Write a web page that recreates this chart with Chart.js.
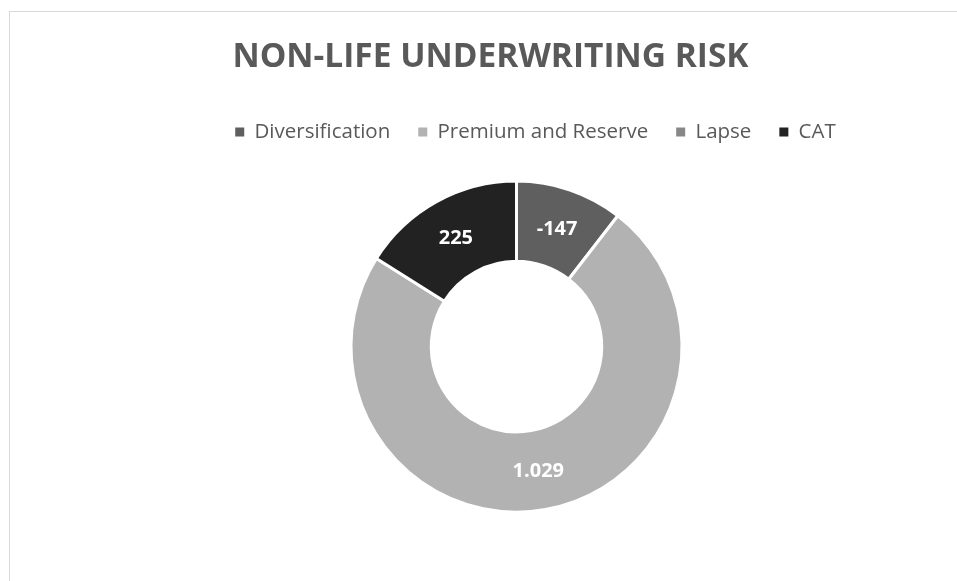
<!DOCTYPE html>
<html>
<head>
<meta charset="utf-8">
<title>Non-life underwriting risk</title>
<script src="https://cdn.jsdelivr.net/npm/chart.js@4.4.1/dist/chart.umd.min.js"></script>
<style>
  html, body { margin: 0; padding: 0; background: #fff; overflow: hidden; }
  #wrap { position: relative; width: 957px; height: 581px; }
  #frame { position: absolute; left: 9px; top: 11px; width: 980px; height: 600px; border: 1px solid #d9d9d9; box-sizing: border-box; }
  #myChart { position: absolute; left: 0; top: 0; }
</style>
</head>
<body>
<div id="wrap">
  <div id="frame"></div>
  <canvas id="myChart" width="957" height="581"></canvas>
</div>
<script>
//--- data
var categories = ['Diversification', 'Premium and Reserve', 'Lapse', 'CAT'];
var values = [-147, 1029, 0, 225];
var colours = ['#5f5f5f', '#b2b2b2', '#878787', '#222222'];

var chartTitle = 'NON-LIFE UNDERWRITING RISK';
var textGrey = '#595959';

function fmt(v) {
    var s = Math.abs(v).toString().replace(/\B(?=(\d{3})+(?!\d))/g, '.');
    return (v < 0 ? '-' : '') + s;
}

// values drawn in the middle of each slice
var sliceLabels = {
    id: 'sliceLabels',
    afterDatasetsDraw: function (chart) {
        var ctx = chart.ctx;
        var meta = chart.getDatasetMeta(0);
        ctx.save();
        ctx.fillStyle = '#ffffff';
        ctx.font = 'bold 20px "Open Sans"';
        ctx.textAlign = 'center';
        ctx.textBaseline = 'middle';
        meta.data.forEach(function (arc, i) {
            if (values[i] === 0) return;
            var p = arc.tooltipPosition();
            ctx.fillText(fmt(values[i]), p.x, p.y + 1);
        });
        ctx.restore();
    }
};

// title and legend are not centred on the doughnut in the original
var nudgeBoxes = {
    id: 'nudgeBoxes',
    afterLayout: function (chart) {
        chart.titleBlock.left -= 26; chart.titleBlock.right -= 26;
        chart.legend.left += 19; chart.legend.right += 19;
    }
};

var ctx = document.getElementById('myChart');
var myChart = new Chart(ctx, {
    type: 'doughnut',
    data: {
        labels: categories,
        datasets: [{
            data: values,
            backgroundColor: colours,
            borderColor: '#ffffff',
            borderWidth: 3
        }]
    },
    options: {
        responsive: false,
        animation: false,
        events: [],
        radius: 165.5,
        cutout: '51.5%',
        layout: { padding: { top: 20, left: 76, right: 0, bottom: 40 } },
        plugins: {
            tooltip: { enabled: false },
            title: {
                display: true,
                text: chartTitle,
                color: textGrey,
                font: { family: '"Open Sans"', size: 33.5, weight: 'bold', lineHeight: 1.2 },
                padding: { top: 17, bottom: 16.5 }
            },
            legend: {
                position: 'top',
                labels: {
                    color: textGrey,
                    font: { family: '"Open Sans"', size: 20.5 },
                    boxWidth: 9,
                    boxHeight: 9,
                    padding: 28,
                    generateLabels: function (chart) {
                        var items = Chart.controllers.doughnut.overrides.plugins.legend.labels.generateLabels(chart);
                        items.forEach(function (it) { it.lineWidth = 0; it.hidden = false; });
                        return items;
                    }
                }
            }
        }
    },
    plugins: [sliceLabels, nudgeBoxes]
});
</script>
</body>
</html>
